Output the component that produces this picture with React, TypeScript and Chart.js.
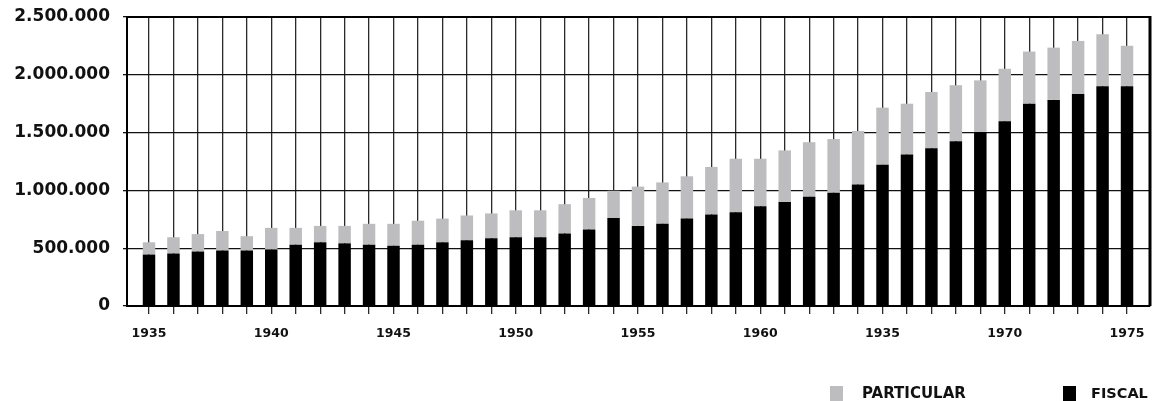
import React, { useEffect, useRef } from "react";
import { Chart, registerables } from "chart.js";

Chart.register(...registerables);

const years = [
  1935, 1936, 1937, 1938, 1939, 1940, 1941, 1942, 1943, 1944,
  1945, 1946, 1947, 1948, 1949, 1950, 1951, 1952, 1953, 1954,
  1955, 1956, 1957, 1958, 1959, 1960, 1961, 1962, 1963, 1964,
  1965, 1966, 1967, 1968, 1969, 1970, 1971, 1972, 1973, 1974, 1975,
];

const fiscal = [
  445000, 454000, 471000, 480000, 480000, 489000, 530000, 551000, 542000, 530000,
  521000, 530000, 551000, 569000, 587000, 595000, 595000, 628000, 662000, 761000,
  693000, 711000, 756000, 792000, 810000, 863000, 899000, 944000, 980000, 1051000,
  1221000, 1310000, 1364000, 1426000, 1506000, 1598000, 1750000, 1783000, 1834000, 1901000, 1901000,
];

const particular = [
  106000, 141000, 151000, 169000, 124000, 187000, 146000, 142000, 151000, 181000,
  190000, 208000, 205000, 214000, 214000, 233000, 233000, 253000, 273000, 236000,
  340000, 358000, 366000, 411000, 464000, 411000, 447000, 473000, 464000, 463000,
  495000, 440000, 487000, 484000, 446000, 454000, 451000, 452000, 459000, 450000, 350000,
];

const xLabelYears = [1935, 1940, 1945, 1950, 1955, 1960, 1965, 1970, 1975];
const xLabelTexts = ["1935", "1940", "1945", "1950", "1955", "1960", "1935", "1970", "1975"];

const yTickValues = [0, 500000, 1000000, 1500000, 2000000, 2500000];
const yTickLabels = ["0", "500.000", "1.000.000", "1.500.000", "2.000.000", "2.500.000"];

const seriesNames = ["FISCAL", "PARTICULAR"];
const seriesColors = ["#000000", "#bdbdbf"];

const FONT = "'DejaVu Sans', sans-serif";

const framePlugin = {
  id: "frame",
  afterDatasetsDraw(chart: any) {
    const { ctx, chartArea } = chart;
    ctx.save();
    ctx.strokeStyle = "#000";
    ctx.lineWidth = 2;
    ctx.beginPath();
    ctx.moveTo(chartArea.left, chartArea.top);
    ctx.lineTo(chartArea.right, chartArea.top);
    ctx.stroke();
    ctx.lineWidth = 3;
    ctx.beginPath();
    ctx.moveTo(chartArea.right, chartArea.top - 1);
    ctx.lineTo(chartArea.right, chartArea.bottom);
    ctx.stroke();
    ctx.restore();
  },
};

export default function App() {
  const canvasRef = useRef<HTMLCanvasElement | null>(null);

  useEffect(() => {
    const canvas = canvasRef.current;
    if (!canvas) return;
    const chart = new Chart(canvas, {
      type: "bar",
      data: {
        datasets: [
          {
            label: seriesNames[0],
            data: years.map((yr, i) => ({ x: yr, y: fiscal[i] })),
            backgroundColor: seriesColors[0],
            borderWidth: 0,
            barPercentage: 0.51,
            categoryPercentage: 1,
          },
          {
            label: seriesNames[1],
            data: years.map((yr, i) => ({ x: yr, y: particular[i] })),
            backgroundColor: seriesColors[1],
            borderWidth: 0,
            barPercentage: 0.51,
            categoryPercentage: 1,
          },
        ],
      },
      plugins: [framePlugin],
      options: {
        animation: false,
        responsive: false,
        devicePixelRatio: 1,
        layout: { padding: { left: 0, top: 17, right: 3, bottom: 55 } },
        plugins: {
          legend: { display: false },
          tooltip: { enabled: false },
        },
        scales: {
          x: {
            type: "linear",
            stacked: true,
            offset: false,
            min: 1934.1,
            max: 1975.94,
            bounds: "ticks",
            afterFit: (scale: any) => {
              scale.height = 40;
              scale.paddingLeft = 0;
              scale.paddingRight = 0;
            },
            border: { display: true, color: "#000", width: 2 },
            grid: {
              display: true,
              offset: false,
              color: "#2a2a2a",
              lineWidth: 1.3,
              drawTicks: true,
              tickLength: 8,
              tickColor: "#2a2a2a",
            },
            ticks: {
              stepSize: 1,
              includeBounds: false,
              autoSkip: false,
              maxRotation: 0,
              padding: 12,
              color: "#111",
              font: { family: FONT, size: 12.5, weight: "bold" },
              callback: (value: any) => {
                const idx = xLabelYears.indexOf(Math.round(Number(value)));
                return idx >= 0 ? xLabelTexts[idx] : "";
              },
            },
          },
          y: {
            type: "linear",
            stacked: true,
            min: 0,
            max: 2500000,
            afterFit: (scale: any) => {
              scale.width = 127;
              scale.paddingTop = 0;
              scale.paddingBottom = 0;
            },
            border: { display: true, color: "#000", width: 2 },
            grid: {
              display: true,
              color: "#111",
              lineWidth: 1.3,
              drawTicks: true,
              tickLength: 4,
              tickColor: "#111",
            },
            ticks: {
              stepSize: 500000,
              padding: 13,
              color: "#111",
              font: { family: FONT, size: 17, weight: "bold" },
              callback: (value: any) => {
                const idx = yTickValues.indexOf(Number(value));
                return idx >= 0 ? yTickLabels[idx] : "";
              },
            },
          },
        },
      },
    } as any);
    return () => chart.destroy();
  }, []);

  const legendText: React.CSSProperties = {
    position: "absolute",
    top: 386,
    fontFamily: FONT,
    fontWeight: "bold",
    fontSize: 15,
    lineHeight: "15px",
    color: "#111",
    whiteSpace: "nowrap",
  };

  return (
    <div style={{ position: "fixed", left: 0, top: 0, width: 1153, height: 401, background: "#fff" }}>
      <canvas ref={canvasRef} width={1153} height={401} style={{ position: "absolute", left: 0, top: 0, width: 1153, height: 401 }} />
      <div style={{ position: "absolute", left: 830, top: 386, width: 13, height: 15, background: seriesColors[1] }} />
      <div style={{ ...legendText, left: 862 }}>{seriesNames[1]}</div>
      <div style={{ position: "absolute", left: 1063, top: 386, width: 13, height: 15, background: seriesColors[0] }} />
      <div style={{ ...legendText, left: 1091, fontSize: 14.5 }}>{seriesNames[0]}</div>
    </div>
  );
}
